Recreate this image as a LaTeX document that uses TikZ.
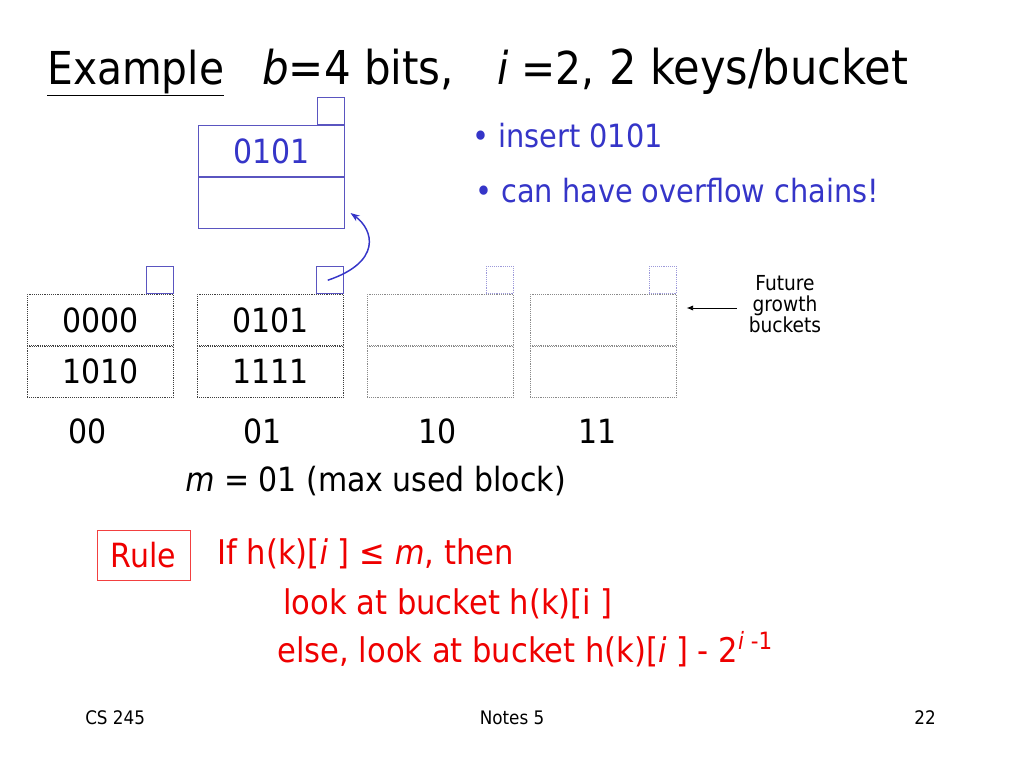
\documentclass[tikz,border=0pt]{standalone}
\usepackage{fontspec}
\setmainfont{DejaVu Sans Condensed}
\usetikzlibrary{arrows.meta,positioning}
\definecolor{ptrblue}{HTML}{5A55C0}
\definecolor{txtblue}{HTML}{3535C8}
\definecolor{rulered}{HTML}{EE0000}
\definecolor{futgray}{HTML}{8A8A8A}
\newcommand{\fs}[1]{\fontsize{#1}{#1}\selectfont}
\tikzset{
  slot/.style={draw=black!75, densely dotted, anchor=north west, inner sep=0pt,
               minimum width=109.5pt, minimum height=38.6pt, font=\fs{25}},
  futslot/.style={slot, draw=futgray},
  ovslot/.style={slot, draw=ptrblue, solid, text=txtblue},
  ptrbox/.style={draw=ptrblue, anchor=south east, inner sep=0pt, minimum size=20.25pt},
  futptr/.style={ptrbox, draw=ptrblue!60, densely dotted},
  lbl/.style={font=\fs{25}, anchor=base},
  plain/.style={anchor=base west, inner sep=0pt},
  chain/.style={-{Stealth[length=7pt,width=5pt]}, draw=txtblue, line width=1.1pt},
  growarrow/.style={-{Latex[length=5pt,width=4pt]}, line width=0.7pt},
}
\begin{document}
\begin{tikzpicture}[x=0.75pt,y=-0.75pt]
  \useasboundingbox (0,0) rectangle (1024,768);

  % title line
  \node[plain, font=\fs{34}] (ttl) at (47,84) {\underline{Example}};
  \node[plain, font=\fs{35}] (tb) at (262,84) {\textit{b}=4 bits,};
  \node[plain, font=\fs{34}] (ti) at (497,84) {\textit{i} =2,};
  \node[plain, font=\fs{36}] (tk) at (609,84) {2 keys/bucket};

  % overflow block
  \node[ovslot] (ova) at (198,125) {0101};
  \node[ovslot] (ovb) at (198,177) {};
  \node[ptrbox] (ovp) at (ova.north east) {};

  \node[plain, font=\fs{24}, text=txtblue] (ins) at (472,147) {\textbullet\ insert 0101};
  \node[plain, font=\fs{24}, text=txtblue] (chn) at (475,202) {\textbullet\ can have overflow chains!};

  % primary buckets
  \node[slot] (b00a) at (27,294) {0000};
  \node[slot] (b00b) at (27,345.5) {1010};
  \node[ptrbox] (p00) at (b00a.north east) {};
  \node[slot] (b01a) at (197,294) {0101};
  \node[slot] (b01b) at (197,345.5) {1111};
  \node[ptrbox] (p01) at (b01a.north east) {};

  % future growth buckets
  \node[futslot] (b10a) at (367,294) {};
  \node[futslot] (b10b) at (367,345.5) {};
  \node[futptr] (p10) at (b10a.north east) {};
  \node[futslot] (b11a) at (530,294) {};
  \node[futslot] (b11b) at (530,345.5) {};
  \node[futptr] (p11) at (b11a.north east) {};

  \node[align=center, font=\fs{15.5}, inner sep=0pt] (fut) at (785,304) {Future\\growth\\buckets};
  \draw[growarrow] ([xshift=-9pt,yshift=-3pt]fut.west) -- ([xshift=7.5pt,yshift=-3pt]fut.west -| b11a.east);

  % overflow pointer
  \draw[chain] ([xshift=-1.5pt]p01.center) .. controls (382,262) and (374,230) .. ([shift={(6,-16)}]ovb.south east);

  % bucket numbers
  \node[lbl] (l00) at (88,443) {00};
  \node[lbl] (l01) at (263,443) {01};
  \node[lbl] (l10) at (438,443) {10};
  \node[lbl] (l11) at (598,443) {11};
  \node[plain, font=\fs{25}] (mx) at (185,491) {\textit{m} = 01 (max used block)};

  % rule
  \node[draw=rulered!75, text=rulered, font=\fs{25}, minimum width=70pt, minimum height=37.5pt,
        inner sep=0pt] (rl) at (143.5,555) {Rule};
  \node[plain, font=\fs{25.5}, text=rulered] (r1) at (217,564) {If h(k)[\textit{i} ] ≤ \textit{m}, then};
  \node[plain, font=\fs{25.5}, text=rulered] (r2) at (283,614) {look at bucket h(k)[i ]};
  \node[plain, font=\fs{25.5}, text=rulered] (r3) at (277,662) {else, look at bucket h(k)[\textit{i} ] - 2\textsuperscript{\textit{i} -1}};

  % footer
  \node[plain, font=\fs{14}] (f1) at (85,724) {CS 245};
  \node[font=\fs{14}, anchor=base] (f2) at (512,724) {Notes 5};
  \node[font=\fs{14}, anchor=base] (f3) at (925,724) {22};
\end{tikzpicture}
\end{document}
